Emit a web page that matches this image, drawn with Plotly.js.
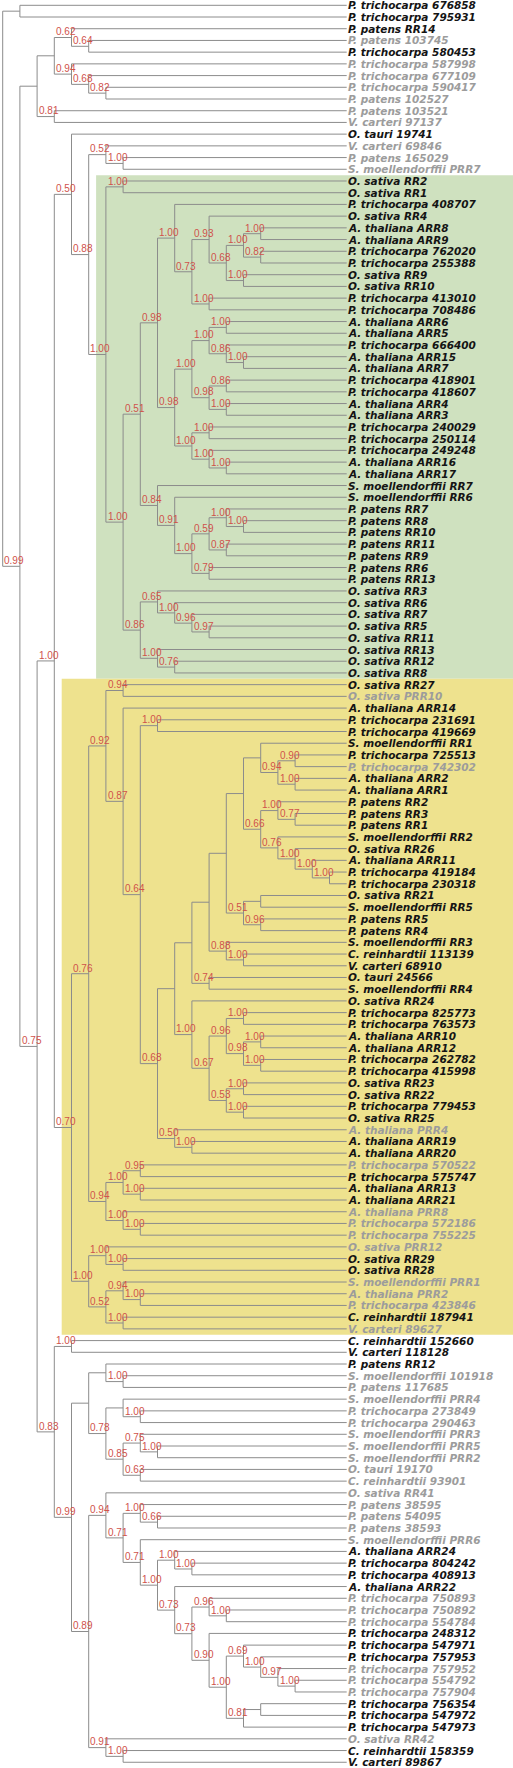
<!DOCTYPE html>
<html><head><meta charset="utf-8">
<script src="https://cdn.plot.ly/plotly-3.0.1.min.js"></script>
<style>html,body{margin:0;padding:0;background:#fff}</style>
</head><body><div id="chart" style="width:513px;height:1768px"></div>
<script>
// ---------- DATA ----------
const LEAF_NAMES = [
 "P. trichocarpa 676858","P. trichocarpa 795931","P. patens RR14","P. patens 103745","P. trichocarpa 580453",
 "P. trichocarpa 587998","P. trichocarpa 677109","P. trichocarpa 590417","P. patens 102527","P. patens 103521",
 "V. carteri 97137","O. tauri 19741","V. carteri 69846","P. patens 165029","S. moellendorffii PRR7",
 "O. sativa RR2","O. sativa RR1","P. trichocarpa 408707","O. sativa RR4","A. thaliana ARR8",
 "A. thaliana ARR9","P. trichocarpa 762020","P. trichocarpa 255388","O. sativa RR9","O. sativa RR10",
 "P. trichocarpa 413010","P. trichocarpa 708486","A. thaliana ARR6","A. thaliana ARR5","P. trichocarpa 666400",
 "A. thaliana ARR15","A. thaliana ARR7","P. trichocarpa 418901","P. trichocarpa 418607","A. thaliana ARR4",
 "A. thaliana ARR3","P. trichocarpa 240029","P. trichocarpa 250114","P. trichocarpa 249248","A. thaliana ARR16",
 "A. thaliana ARR17","S. moellendorffii RR7","S. moellendorffii RR6","P. patens RR7","P. patens RR8",
 "P. patens RR10","P. patens RR11","P. patens RR9","P. patens RR6","P. patens RR13",
 "O. sativa RR3","O. sativa RR6","O. sativa RR7","O. sativa RR5","O. sativa RR11",
 "O. sativa RR13","O. sativa RR12","O. sativa RR8","O. sativa RR27","O. sativa PRR10",
 "A. thaliana ARR14","P. trichocarpa 231691","P. trichocarpa 419669","S. moellendorffii RR1","P. trichocarpa 725513",
 "P. trichocarpa 742302","A. thaliana ARR2","A. thaliana ARR1","P. patens RR2","P. patens RR3",
 "P. patens RR1","S. moellendorffii RR2","O. sativa RR26","A. thaliana ARR11","P. trichocarpa 419184",
 "P. trichocarpa 230318","O. sativa RR21","S. moellendorffii RR5","P. patens RR5","P. patens RR4",
 "S. moellendorffii RR3","C. reinhardtii 113139","V. carteri 68910","O. tauri 24566","S. moellendorffii RR4",
 "O. sativa RR24","P. trichocarpa 825773","P. trichocarpa 763573","A. thaliana ARR10","A. thaliana ARR12",
 "P. trichocarpa 262782","P. trichocarpa 415998","O. sativa RR23","O. sativa RR22","P. trichocarpa 779453",
 "O. sativa RR25","A. thaliana PRR4","A. thaliana ARR19","A. thaliana ARR20","P. trichocarpa 570522",
 "P. trichocarpa 575747","A. thaliana ARR13","A. thaliana ARR21","A. thaliana PRR8","P. trichocarpa 572186",
 "P. trichocarpa 755225","O. sativa PRR12","O. sativa RR29","O. sativa RR28","S. moellendorffii PRR1",
 "A. thaliana PRR2","P. trichocarpa 423846","C. reinhardtii 187941","V. carteri 89627","C. reinhardtii 152660",
 "V. carteri 118128","P. patens RR12","S. moellendorffii 101918","P. patens 117685","S. moellendorffii PRR4",
 "P. trichocarpa 273849","P. trichocarpa 290463","S. moellendorffii PRR3","S. moellendorffii PRR5","S. moellendorffii PRR2",
 "O. tauri 19170","C. reinhardtii 93901","O. sativa RR41","P. patens 38595","P. patens 54095",
 "P. patens 38593","S. moellendorffii PRR6","A. thaliana ARR24","P. trichocarpa 804242","P. trichocarpa 408913",
 "A. thaliana ARR22","P. trichocarpa 750893","P. trichocarpa 750892","P. trichocarpa 554784","P. trichocarpa 248312",
 "P. trichocarpa 547971","P. trichocarpa 757953","P. trichocarpa 757952","P. trichocarpa 554792","P. trichocarpa 757904",
 "P. trichocarpa 756354","P. trichocarpa 547972","P. trichocarpa 547973","O. sativa RR42","C. reinhardtii 158359",
 "V. carteri 89867"
];
// 1 = black label, 0 = grey label (rows of ten)
const LEAF_BOLD = [
 1,1,1,0,1,0,0,0,0,0,
 0,1,0,0,0,1,1,1,1,1,
 1,1,1,1,1,1,1,1,1,1,
 1,1,1,1,1,1,1,1,1,1,
 1,1,1,1,1,1,1,1,1,1,
 1,1,1,1,1,1,1,1,1,0,
 1,1,1,1,1,0,1,1,1,1,
 1,1,1,1,1,1,1,1,1,1,
 1,1,1,1,1,1,1,1,1,1,
 1,1,1,1,1,1,0,1,1,0,
 1,1,1,0,0,0,0,1,1,0,
 0,0,1,0,1,1,1,0,0,0,
 0,0,0,0,0,0,0,0,0,0,
 0,0,1,1,1,1,0,0,0,1,
 1,1,0,0,0,1,1,1,0,1,
 1
];

// Topology (leaf indices) with bootstrap support values, Newick style
const T_G100B = "(17,((18,(((19,20)1.00,(21,22)0.82)1.00,(23,24)1.00)0.68)0.93,(25,26)1.00)0.73)1.00";
const T_G98C  = "((((27,28)1.00,(29,(30,31)1.00)0.86)1.00,((32,33)0.86,(34,35)1.00)0.98)1.00,((36,37)1.00,(38,(39,40)1.00)1.00)1.00)0.98";
const T_G84   = "(41,(42,(((43,(44,45)1.00)1.00,(46,47)0.87)0.59,(48,49)0.79)1.00)0.91)0.84";
const T_G86   = "((50,(51,(52,(53,54)0.97)0.96)1.00)0.65,(55,(56,57)0.76)1.00)0.86";
const T_GREEN = "((15,16)1.00,(((" + T_G100B + "," + T_G98C + ")0.98," + T_G84 + ")0.51," + T_G86 + ")1.00)1.00";

const T_YU15  = "(63,((64,65)0.90,(66,67)1.00)0.94)";
const T_Y66   = "((68,(69,70)0.77)1.00,(71,(72,(73,(74,75)1.00)1.00)1.00)0.76)0.66";
const T_Y51   = "((76,77),(78,79)0.96)0.51";
const T_Y88   = "(80,(81,82)1.00)0.88";
const T_Y67   = "(((86,87)1.00,((88,89)1.00,(90,91)1.00)0.98)0.96,((92,93)1.00,(94,95)1.00)0.53)0.67";
const T_YU10  = "(((((" + T_YU15 + "," + T_Y66 + ")," + T_Y51 + ")," + T_Y88 + "),(83,84)0.74),(85," + T_Y67 + ")1.00)";
const T_Y92   = "((58,59)0.94,(60,((61,62)1.00,(" + T_YU10 + ",(96,(97,98)1.00)0.50)0.68)0.64)0.87)0.92";
const T_Y94   = "(((99,100)0.95,(101,102)1.00)1.00,(103,(104,105)1.00)1.00)0.94";
const T_Y100  = "((106,(107,108)1.00)1.00,((109,(110,111)1.00)0.94,(112,113)1.00)0.52)1.00";
const T_YELLOW = "((" + T_Y92 + "," + T_Y94 + ")0.76," + T_Y100 + ")0.70";

const T_N78   = "((119,(120,121)1.00),((122,(123,124)1.00)0.75,(125,126)0.63)0.85)0.78";
const T_N73B  = "((136,(137,138)1.00)0.96,(139,((140,(141,(142,(143,144)1.00)0.97)1.00)0.69,((145,146),147)0.81)1.00)0.90)0.73";
const T_N94   = "(127,((128,(129,130)0.66)1.00,(131,((132,(133,134)1.00)1.00,(135," + T_N73B + ")0.73)1.00)0.71)0.71)0.94";
const T_N83   = "((114,115)1.00,(((116,(117,118)1.00)," + T_N78 + "),(" + T_N94 + ",(148,(149,150)1.00)0.91)0.89)0.99)0.83";

const T_N2    = "(((2,(3,4)0.64)0.62,(5,(6,(7,8)0.82)0.68)0.94),(9,10)0.81)";
const T_N50   = "(11,((12,(13,14)1.00)0.52," + T_GREEN + ")0.88)0.50";
const TREE    = "((0,1),(" + T_N2 + ",((" + T_N50 + "," + T_YELLOW + ")1.00," + T_N83 + ")0.75)0.99)";

const HIGHLIGHT_FIRST  = [15, 58];
const HIGHLIGHT_LAST   = [57, 113];
const HIGHLIGHT_COLORS = ["#cfe1bf", "#eee28e"];

// ---------- BUILD ----------
function parseNewick(str){
  let i = 0;
  function node(){
    const n = {children: [], label: ""};
    if (str[i] === "("){
      i++;
      n.children.push(node());
      while (str[i] === ","){ i++; n.children.push(node()); }
      i++;
    }
    let tok = "";
    while (i < str.length && !",()".includes(str[i])){ tok += str[i]; i++; }
    if (n.children.length === 0) n.leaf = parseInt(tok, 10); else n.label = tok;
    return n;
  }
  return node();
}
const root = parseNewick(TREE);
let maxDepth = 0;
const internals = [];
function assign(n, d){
  if (n.children.length){
    n.depth = d; maxDepth = Math.max(maxDepth, d); internals.push(n);
    n.children.forEach(c => assign(c, d + 1));
    n.y = (n.children[0].y + n.children[n.children.length - 1].y) / 2;
    n.first = n.children[0].first; n.last = n.children[n.children.length - 1].last;
  } else { n.y = n.leaf; n.first = n.last = n.leaf; }
}
assign(root, 0);
const LEAF_DEPTH = maxDepth + 1;

const xs = [], ys = [];
internals.forEach(n => {
  const c0 = n.children[0], c1 = n.children[n.children.length - 1];
  xs.push(n.depth, n.depth, null); ys.push(c0.y, c1.y, null);
  n.children.forEach(c => {
    const cd = c.children.length ? c.depth : LEAF_DEPTH;
    xs.push(n.depth, cd, null); ys.push(c.y, c.y, null);
  });
});

const W = 513, H = 1768;
const PX_X = 17.2, X0 = 2.7, PX_Y = 11.713, Y0 = 5.3;
const xRange = [-X0 / PX_X, (W - X0) / PX_X];
const yRange = [(H - Y0) / PX_Y, -Y0 / PX_Y];

const annotations = [];
internals.forEach(n => {
  if (!n.label) return;
  annotations.push({x: n.depth, y: n.y, xref: "x", yref: "y", text: n.label, showarrow: false,
    xanchor: "center", yanchor: "middle", xshift: -5.5, yshift: 5.7,
    font: {family: "Liberation Sans, Arial, sans-serif", size: 10, color: "#d0524c"}});
});
LEAF_NAMES.forEach((name, i) => {
  const dark = LEAF_BOLD[i] === 1;
  annotations.push({x: LEAF_DEPTH, y: i, xref: "x", yref: "y",
    text: "<b><i>" + name + "</i></b>",
    showarrow: false, xanchor: "left", yanchor: "middle", xshift: -0.5, yshift: 0,
    font: {family: "DejaVu Sans, sans-serif", size: 10.5, color: dark ? "#141414" : "#9c9c9c"}});
});

function findClade(n, a, b){
  if (n.children.length && n.first === a && n.last === b) return n;
  for (const c of n.children){ const r = findClade(c, a, b); if (r) return r; }
  return null;
}
const shapes = [];
HIGHLIGHT_FIRST.forEach((a, k) => {
  const cl = findClade(root, a, HIGHLIGHT_LAST[k]);
  const d = cl ? cl.depth : 0;
  shapes.push({type: "rect", xref: "x", yref: "y", layer: "below",
    x0: d - 0.57, x1: xRange[1], y0: a - 0.5, y1: HIGHLIGHT_LAST[k] + 0.5,
    fillcolor: HIGHLIGHT_COLORS[k], line: {width: 0}});
});

const trace = {x: xs, y: ys, mode: "lines", type: "scatter", hoverinfo: "skip",
  line: {color: "#8c8c8c", width: 1}, connectgaps: false};

const ax = {visible: false, showgrid: false, zeroline: false, fixedrange: true};
Plotly.newPlot("chart", [trace], {
  width: W, height: H, margin: {l: 0, r: 0, t: 0, b: 0},
  paper_bgcolor: "#ffffff", plot_bgcolor: "#ffffff", showlegend: false,
  xaxis: Object.assign({range: xRange}, ax),
  yaxis: Object.assign({range: yRange}, ax),
  shapes: shapes, annotations: annotations
}, {displayModeBar: false, staticPlot: true});
</script></body></html>
